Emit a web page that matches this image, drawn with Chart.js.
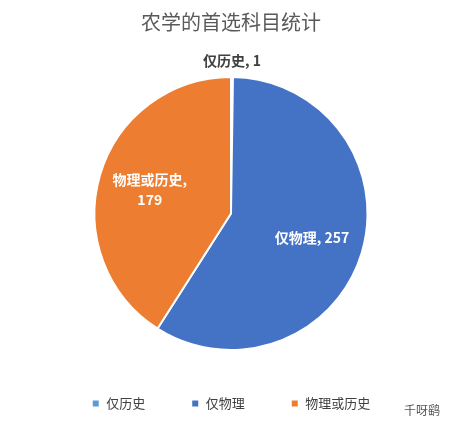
<!DOCTYPE html>
<html>
<head>
<meta charset="utf-8">
<script src="https://cdn.jsdelivr.net/npm/chart.js@4"></script>
<style>
  body { margin: 0; background: #fff; }
  #wrap { width: 462px; height: 432px; position: relative; }
</style>
</head>
<body>
<div id="wrap"><canvas id="chart"></canvas></div>
<script>
const categories = ['仅历史', '仅物理', '物理或历史'];
const counts = [1, 257, 179];
const colors = ['#5B9BD5', '#4472C4', '#ED7D31'];

const FONT = '"Noto Sans CJK SC", "Noto Sans", sans-serif';

// draw the slice labels: first one outside, the rest inside in white
const sliceLabels = {
  id: 'sliceLabels',
  afterDatasetsDraw(chart) {
    const ctx = chart.ctx;
    const arcs = chart.getDatasetMeta(0).data;
    ctx.save();
    ctx.textAlign = 'center';
    ctx.textBaseline = 'middle';
    ctx.font = 'bold 14px ' + FONT;
    arcs.forEach((arc, i) => {
      const mid = (arc.startAngle + arc.endAngle) / 2;
      if (i === 0) {
        const r = arc.outerRadius + 16;
        ctx.fillStyle = '#404040';
        ctx.fillText(categories[i] + ', ' + counts[i], arc.x + Math.cos(mid) * r, arc.y + Math.sin(mid) * r);
      } else {
        const r = arc.outerRadius * 0.62;
        const x = arc.x + Math.cos(mid) * r, y = arc.y + Math.sin(mid) * r;
        ctx.fillStyle = '#fff';
        if (i === 2) {
          ctx.fillText(categories[i] + ',', x, y - 10);
          ctx.fillText(String(counts[i]), x, y + 10);
        } else {
          ctx.fillText(categories[i] + ', ' + counts[i], x, y);
        }
      }
    });
    // watermark
    ctx.font = '12px ' + FONT;
    ctx.fillStyle = '#555';
    ctx.textAlign = 'left';
    ctx.fillText('千呀鹞', 404, 410);
    ctx.restore();
  }
};

new Chart(document.getElementById('chart'), {
  type: 'pie',
  data: {
    labels: categories,
    datasets: [{
      data: counts,
      backgroundColor: colors,
      borderColor: '#ffffff',
      borderWidth: 2
    }]
  },
  options: {
    responsive: true,
    maintainAspectRatio: false,
    animation: false,
    layout: { padding: { top: 0, bottom: 12 } },
    plugins: {
      title: {
        display: true,
        text: '农学的首选科目统计',
        color: '#595959',
        font: { family: FONT, size: 20, weight: 'normal' },
        padding: { top: 10, bottom: 42 }
      },
      legend: {
        position: 'bottom',
        labels: {
          color: '#404040',
          font: { family: FONT, size: 13 },
          boxWidth: 8, boxHeight: 8,
          padding: 46
        }
      },
      tooltip: { enabled: false }
    }
  },
  plugins: [sliceLabels]
});
</script>
</body>
</html>
